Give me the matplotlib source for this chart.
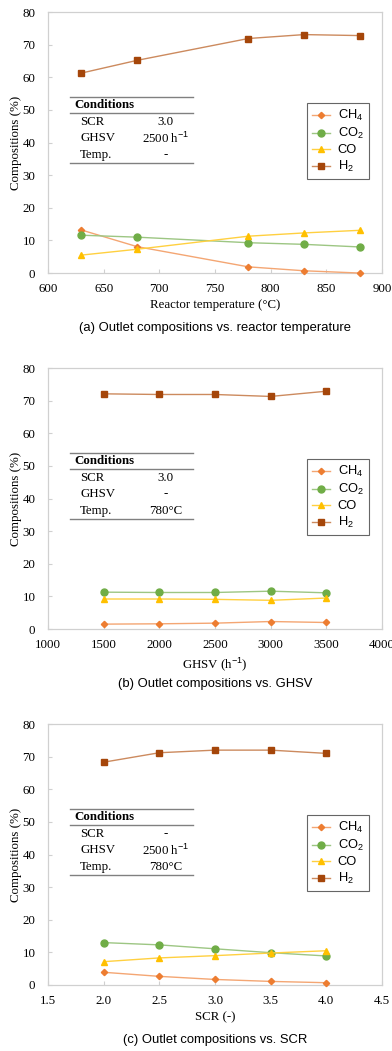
import numpy as np
import matplotlib.pyplot as plt

# (a) reactor temperature
temp = [630, 680, 780, 830, 880]
temp_ch4 = [13.2, 8.1, 1.9, 0.7, 0.0]
temp_co2 = [11.6, 11.0, 9.3, 8.8, 8.0]
temp_co = [5.5, 7.3, 11.3, 12.3, 13.1]
temp_h2 = [61.3, 65.2, 71.9, 73.1, 72.8]

# (b) GHSV
ghsv = [1500, 2000, 2500, 3000, 3500]
ghsv_ch4 = [1.5, 1.6, 1.8, 2.3, 2.0]
ghsv_co2 = [11.3, 11.2, 11.2, 11.6, 11.1]
ghsv_co = [9.2, 9.2, 9.1, 8.8, 9.5]
ghsv_h2 = [72.1, 71.9, 71.9, 71.3, 72.9]

# (c) SCR
scr = [2.0, 2.5, 3.0, 3.5, 4.0]
scr_ch4 = [3.9, 2.65, 1.7, 1.1, 0.7]
scr_co2 = [13.0, 12.3, 11.1, 9.9, 8.9]
scr_co = [7.15, 8.3, 9.0, 9.8, 10.5]
scr_h2 = [68.3, 71.2, 72.0, 72.0, 71.0]

species = ["CH$_4$", "CO$_2$", "CO", "H$_2$"]
colors = ["#ED7D31", "#70AD47", "#FFC000", "#A5460A"]
line_colors = ["#F4A673", "#9DC683", "#FFD040", "#CC8A5E"]
markers = ["D", "o", "^", "s"]
msizes = [3.2, 5, 4.5, 5]

serif = "Liberation Serif"
sans = "Liberation Sans"

panels = [
    (temp, [temp_ch4, temp_co2, temp_co, temp_h2], (600, 900), np.arange(600, 901, 50),
     [str(v) for v in range(600, 901, 50)], "Reactor temperature (\u00b0C)",
     "(a) Outlet compositions vs. reactor temperature", ["3.0", "2500 h$^{-1}$", "-"]),
    (ghsv, [ghsv_ch4, ghsv_co2, ghsv_co, ghsv_h2], (1000, 4000), np.arange(1000, 4001, 500),
     [str(v) for v in range(1000, 4001, 500)], "GHSV (h$^{-1}$)",
     "(b) Outlet compositions vs. GHSV", ["3.0", "-", "780\u00b0C"]),
    (scr, [scr_ch4, scr_co2, scr_co, scr_h2], (1.5, 4.5), np.arange(1.5, 4.51, 0.5),
     ["%.1f" % v for v in np.arange(1.5, 4.51, 0.5)], "SCR (-)",
     "(c) Outlet compositions vs. SCR", ["-", "2500 h$^{-1}$", "780\u00b0C"]),
]

plt.rcParams['mathtext.fontset'] = 'custom'
plt.rcParams['mathtext.rm'] = sans

fig = plt.figure(figsize=(3.92, 10.51), dpi=100)
bottoms = [0.7402, 0.4015, 0.0628]
frame = "#D0D0D0"
fs = 9.3

for (x, ys, xlim, xticks, xtl, xlabel, caption, cond), b in zip(panels, bottoms):
    ax = fig.add_axes([0.1224, b, 0.852, 0.2483])
    for y, lab, c, lc, m, ms in zip(ys, species, colors, line_colors, markers, msizes):
        ax.plot(x, y, color=lc, lw=1.0, marker=m, ms=ms, mfc=c, mec=c,
                label=lab, clip_on=False, zorder=3)
    ax.set_xlim(*xlim)
    ax.set_ylim(0, 80)
    ax.set_xticks(xticks)
    ax.set_xticklabels(xtl, fontfamily=serif, fontsize=fs)
    ax.set_yticks(range(0, 81, 10))
    ax.set_yticklabels([str(v) for v in range(0, 81, 10)], fontfamily=serif, fontsize=fs)
    ax.tick_params(axis="x", direction="in", length=3, color=frame, pad=7)
    ax.tick_params(axis="y", direction="in", length=3, color=frame, pad=9)
    for s in ax.spines.values():
        s.set_color(frame)
        s.set_linewidth(0.9)
    ax.set_xlabel(xlabel, fontfamily=serif, fontsize=fs, labelpad=3)
    ax.set_ylabel("Compositions (%)", fontfamily=serif, fontsize=fs, labelpad=0)
    ax.text(0.5, -0.21, caption, transform=ax.transAxes, ha="center", va="center",
            fontfamily=sans, fontsize=9.4)

    # conditions table
    tx0, tx1 = 0.066, 0.434
    for yy in [0.674, 0.613, 0.421]:
        ax.plot([tx0, tx1], [yy, yy], transform=ax.transAxes, color="#808080", lw=1.0)
    ax.text(0.078, 0.644, "Conditions", transform=ax.transAxes, ha="left", va="center",
            fontfamily=serif, fontsize=fs, fontweight="bold")
    for yy, name, val in zip([0.579, 0.517, 0.452], ["SCR", "GHSV", "Temp."], cond):
        ax.text(0.096, yy, name, transform=ax.transAxes, ha="left", va="center",
                fontfamily=serif, fontsize=fs)
        ax.text(0.353, yy, val, transform=ax.transAxes, ha="center", va="center",
                fontfamily=serif, fontsize=fs)

    leg = ax.legend(loc="upper right", bbox_to_anchor=(0.961, 0.651), frameon=True,
                    fancybox=False, edgecolor="#404040", prop={"family": sans, "size": fs},
                    handlelength=1.4, borderpad=0.4, labelspacing=0.22, handletextpad=0.6,
                    borderaxespad=0)
    leg.get_frame().set_linewidth(0.8)

fig.savefig("out.png", dpi=100)
